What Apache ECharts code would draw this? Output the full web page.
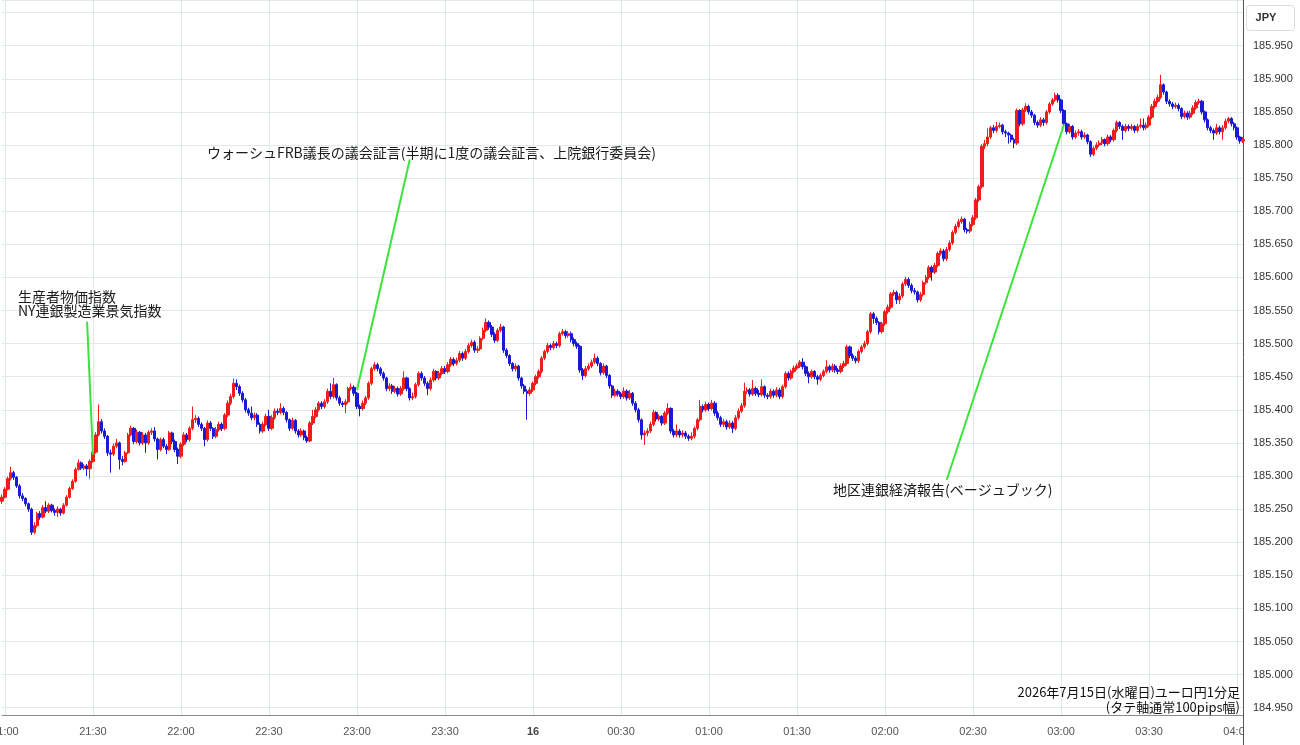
<!DOCTYPE html>
<html>
<head>
<meta charset="utf-8">
<title>ユーロ円 1分足</title>
<script src="https://cdn.jsdelivr.net/npm/echarts@6/dist/echarts.min.js"></script>
<style>
  html, body { margin: 0; padding: 0; background: #fff; }
  #main { width: 1300px; height: 745px; }
</style>
</head>
<body>
<div id="main"></div>
<script>
// 価格 = BASE + 値 / 1000 (値は185.000からの0.001円単位)
var BASE = 185
var START = '20:59' // 最初の足の時刻
var OPEN0 = 262 // 最初の足の始値 (以降は前の足の終値)

var closes = [
  268, 280, 296, 305, 298, 285, 270, 266, 258, 250,
  215, 225, 243, 238, 252, 247, 256, 248, 245, 250,
  244, 256, 268, 281, 292, 310, 320, 312, 315, 311,
  322, 336, 362, 382, 368, 360, 335, 333, 345, 350,
  325, 322, 335, 362, 372, 352, 366, 350, 362, 350,
  366, 368, 356, 340, 355, 345, 340, 365, 352, 340,
  330, 348, 362, 355, 372, 385, 387, 378, 372, 355,
  380, 372, 360, 370, 378, 372, 392, 410, 420, 440,
  435, 425, 415, 400, 395, 388, 392, 378, 368, 378,
  390, 372, 388, 398, 396, 402, 396, 385, 372, 384,
  368, 362, 368, 358, 353, 380, 390, 400, 410, 405,
  412, 428, 420, 438, 418, 410, 408, 412, 432, 434,
  425, 405, 402, 410, 418, 440, 462, 468, 462, 455,
  448, 432, 436, 428, 432, 424, 432, 448, 432, 418,
  420, 438, 455, 448, 440, 432, 445, 458, 448, 455,
  462, 458, 468, 476, 470, 475, 485, 478, 488, 497,
  502, 490, 492, 508, 520, 532, 525, 514, 505, 520,
  525, 490, 482, 470, 462, 466, 448, 436, 428, 425,
  430, 440, 450, 458, 478, 488, 497, 494, 500, 497,
  515, 518, 512, 515, 506, 500, 496, 460, 452, 462,
  466, 472, 478, 470, 456, 466, 452, 436, 422, 428,
  424, 420, 428, 418, 425, 410, 400, 385, 362, 365,
  368, 378, 396, 386, 390, 380, 395, 402, 368, 362,
  368, 362, 365, 360, 357, 360, 372, 385, 405, 400,
  408, 402, 410, 395, 388, 378, 382, 374, 380, 372,
  388, 398, 406, 428, 430, 424, 432, 425, 423, 435,
  422, 420, 428, 422, 430, 420, 435, 455, 448, 458,
  463, 466, 472, 465, 455, 450, 458, 450, 446, 452,
  458, 465, 460, 466, 460, 458, 466, 470, 495, 482,
  478, 474, 488, 495, 500, 518, 545, 538, 532, 518,
  530, 548, 555, 575, 577, 566, 572, 590, 597, 588,
  580, 578, 566, 574, 592, 600, 615, 608, 618, 636,
  640, 628, 642, 652, 668, 677, 684, 688, 672, 670,
  680, 690, 717, 737, 798, 802, 812, 826, 822, 828,
  830, 820, 818, 815, 808, 803, 852, 832, 853, 858,
  850, 845, 834, 830, 838, 834, 850, 862, 868, 875,
  868, 852, 832, 820, 828, 812, 818, 820, 812, 815,
  805, 786, 795, 800, 803, 808, 802, 812, 808, 822,
  834, 828, 822, 828, 825, 828, 822, 828, 830, 826,
  830, 842, 858, 866, 872, 891, 880, 866, 862, 858,
  860, 855, 843, 848, 842, 848, 856, 864, 866, 850,
  838, 826, 822, 818, 826, 820, 826, 836, 840, 832,
  826, 812, 806, 808
]

var highs = [
  272, 283, 299, 314, 308, 300, 288, 274, 268, 260,
  252, 230, 246, 247, 256, 262, 259, 258, 251, 254,
  252, 259, 271, 284, 295, 313, 325, 322, 318, 318,
  325, 340, 366, 408, 386, 372, 362, 340, 349, 356,
  352, 330, 338, 365, 376, 374, 370, 368, 366, 365,
  369, 372, 374, 358, 358, 358, 348, 368, 367, 355,
  343, 351, 366, 365, 375, 405, 392, 390, 381, 374,
  384, 383, 374, 374, 382, 381, 395, 414, 424, 447,
  446, 438, 428, 418, 403, 405, 396, 395, 381, 382,
  394, 400, 392, 402, 402, 410, 405, 398, 387, 388,
  386, 371, 372, 370, 361, 383, 400, 404, 413, 413,
  416, 432, 440, 448, 440, 421, 413, 416, 435, 440,
  437, 427, 408, 414, 421, 443, 465, 472, 471, 465,
  458, 450, 440, 439, 436, 435, 436, 458, 450, 434,
  426, 441, 458, 458, 451, 443, 449, 462, 460, 459,
  466, 466, 472, 480, 479, 479, 489, 488, 492, 501,
  506, 505, 496, 511, 524, 538, 535, 528, 517, 523,
  530, 527, 493, 484, 472, 470, 468, 450, 439, 431,
  434, 443, 453, 461, 481, 491, 501, 500, 504, 503,
  518, 522, 521, 519, 518, 509, 503, 498, 463, 466,
  470, 476, 485, 481, 472, 470, 468, 454, 438, 432,
  431, 427, 434, 431, 430, 427, 413, 403, 387, 369,
  372, 382, 400, 398, 393, 392, 398, 410, 404, 371,
  378, 371, 369, 368, 363, 366, 375, 388, 415, 408,
  412, 411, 415, 413, 398, 391, 386, 385, 384, 383,
  392, 402, 410, 441, 434, 433, 445, 435, 430, 446,
  437, 425, 432, 431, 434, 433, 438, 458, 458, 461,
  467, 470, 475, 478, 467, 458, 461, 460, 453, 455,
  461, 475, 468, 470, 469, 463, 470, 474, 498, 497,
  485, 481, 491, 498, 504, 521, 548, 548, 541, 534,
  533, 551, 559, 578, 581, 580, 576, 593, 601, 600,
  591, 584, 580, 578, 595, 604, 618, 618, 622, 639,
  644, 643, 646, 656, 671, 681, 688, 692, 690, 675,
  684, 694, 720, 740, 801, 808, 825, 829, 830, 835,
  834, 832, 823, 820, 817, 811, 855, 854, 856, 863,
  861, 853, 847, 837, 842, 841, 853, 865, 871, 879,
  878, 870, 854, 834, 832, 830, 822, 824, 823, 819,
  817, 807, 798, 804, 807, 812, 810, 816, 815, 825,
  837, 836, 831, 832, 831, 832, 830, 832, 840, 840,
  834, 845, 862, 870, 876, 906, 893, 882, 869, 865,
  864, 863, 857, 852, 851, 852, 860, 868, 870, 868,
  852, 840, 829, 825, 832, 829, 830, 840, 842, 842,
  835, 828, 814, 812
]

var lows = [
  258, 266, 278, 293, 294, 282, 266, 262, 254, 246,
  211, 212, 222, 234, 236, 244, 244, 245, 240, 238,
  240, 242, 254, 266, 279, 290, 308, 309, 309, 300,
  296, 320, 334, 360, 364, 356, 330, 305, 330, 342,
  310, 316, 320, 333, 360, 348, 349, 346, 347, 335,
  347, 362, 352, 325, 337, 342, 333, 338, 348, 336,
  318, 327, 345, 351, 352, 369, 380, 374, 368, 345,
  352, 368, 356, 357, 367, 368, 369, 389, 407, 417,
  430, 421, 411, 396, 391, 384, 384, 374, 364, 365,
  375, 368, 369, 385, 392, 393, 392, 381, 368, 369,
  364, 358, 359, 354, 350, 351, 377, 387, 397, 401,
  402, 409, 416, 417, 414, 406, 404, 395, 409, 429,
  421, 401, 390, 399, 407, 415, 437, 459, 458, 451,
  444, 428, 428, 424, 425, 420, 421, 429, 428, 414,
  415, 417, 435, 444, 436, 422, 429, 442, 444, 445,
  452, 454, 455, 465, 466, 467, 472, 474, 475, 485,
  494, 486, 486, 489, 505, 517, 521, 510, 501, 502,
  517, 486, 478, 466, 458, 458, 444, 432, 424, 385,
  421, 427, 437, 447, 455, 475, 485, 490, 491, 493,
  494, 512, 508, 509, 502, 496, 492, 456, 445, 449,
  459, 463, 469, 466, 452, 453, 448, 432, 418, 419,
  420, 416, 417, 414, 415, 406, 396, 381, 355, 347,
  360, 365, 375, 382, 383, 376, 377, 392, 364, 358,
  359, 358, 358, 356, 353, 354, 357, 369, 382, 396,
  397, 398, 399, 391, 384, 374, 374, 370, 371, 365,
  369, 385, 395, 403, 424, 420, 421, 421, 419, 420,
  418, 416, 417, 418, 419, 416, 417, 432, 444, 445,
  455, 460, 463, 461, 451, 440, 447, 446, 438, 443,
  449, 455, 456, 457, 456, 454, 455, 463, 467, 478,
  474, 470, 471, 485, 492, 497, 515, 530, 528, 514,
  515, 527, 545, 552, 572, 560, 560, 569, 587, 584,
  576, 574, 562, 563, 571, 589, 597, 595, 605, 615,
  633, 624, 625, 639, 649, 665, 674, 681, 668, 666,
  667, 677, 687, 714, 734, 794, 798, 809, 818, 819,
  825, 816, 812, 802, 804, 795, 800, 828, 829, 850,
  846, 841, 830, 826, 827, 829, 831, 847, 859, 865,
  864, 848, 828, 816, 817, 808, 809, 814, 808, 809,
  801, 782, 783, 792, 797, 800, 798, 799, 804, 805,
  819, 824, 808, 819, 821, 822, 818, 819, 825, 822,
  823, 827, 839, 855, 863, 869, 876, 862, 858, 854,
  855, 851, 839, 840, 838, 839, 845, 853, 861, 846,
  834, 822, 818, 808, 815, 816, 808, 823, 833, 828,
  822, 808, 802, 803
]

// 目盛りラベル (日付が変わる0時は日付表示)
var tickRename = { '00:00': '16' }

// 注記: テキスト側の端 → 足側の端 [時刻, 価格]
var noteTexts = [
  '生産者物価指数\nNY連銀製造業景気指数',
  'ウォーシュFRB議長の議会証言(半期に1度の議会証言、上院銀行委員会)',
  '地区連銀経済報告(ベージュブック)'
]
var noteFrom = [['21:28', 185.533], ['23:18', 185.778], ['02:21', 185.294]]
var noteTo = [['21:30', 185.332], ['23:00', 185.430], ['03:01', 185.831]]

var caption = '2026年7月15日(水曜日)ユーロ円1分足\n(タテ軸通常100pips幅)'

var UP = '#f01c1c'
var DOWN = '#1a1ad6'
var GRID = '#e0e8ec'
var LATIN = '"Liberation Sans", Arial, sans-serif'
var CJK = '"Noto Sans CJK JP", "Liberation Sans", sans-serif'

function pad(n) {
  return n < 10 ? '0' + n : '' + n
}
function toPrice(v) {
  return +(BASE + v / 1000).toFixed(3)
}
// 1分ごとの時刻軸
function buildTimes(start, n) {
  var m0 = start.split(':')[0] * 60 + start.split(':')[1] * 1
  var out = []
  for (var i = 0; i < n; i++) {
    var t = (m0 + i) % 1440
    out.push(pad(Math.floor(t / 60)) + ':' + pad(t % 60))
  }
  return out
}

var times = buildTimes(START, closes.length)
var candles = closes.map(function (c, i) {
  var o = i === 0 ? OPEN0 : closes[i - 1]
  return [toPrice(o), toPrice(c), toPrice(lows[i]), toPrice(highs[i])]
})

function isHalfHour(index, value) {
  var m = value.split(':')[1]
  return m === '00' || m === '30'
}

var myChart = echarts.init(document.getElementById('main'), null, { renderer: 'canvas' })
var option = {
  animation: false,
  backgroundColor: '#fff',
  grid: { left: 2, right: 57, top: 0, bottom: 30, containLabel: false, outerBoundsMode: 'none' },
  xAxis: {
    type: 'category',
    data: times,
    boundaryGap: false,
    axisLine: { show: true, lineStyle: { color: '#8a8a8a' } },
    axisTick: { show: false },
    axisLabel: {
      interval: isHalfHour,
      color: '#555',
      fontSize: 11,
      fontFamily: LATIN,
      margin: 11,
      hideOverlap: false,
      formatter: function (value) {
        return tickRename[value] ? '{b|' + tickRename[value] + '}' : value
      },
      rich: {
        b: { fontWeight: 'bold', color: '#444', fontSize: 11, fontFamily: LATIN }
      }
    },
    splitLine: { show: true, interval: isHalfHour, lineStyle: { color: GRID } }
  },
  yAxis: {
    type: 'value',
    position: 'right',
    min: toPrice(-61),
    max: toPrice(1019),
    splitNumber: 21,
    axisLine: { show: true, lineStyle: { color: '#555' } },
    axisTick: { show: false },
    axisLabel: {
      color: '#333',
      fontSize: 11,
      fontFamily: LATIN,
      margin: 10,
      formatter: function (v) {
        var k = v * 20
        if (Math.abs(k - Math.round(k)) > 1e-6 || v > 185.99) return ''
        return v.toFixed(3)
      }
    },
    splitLine: { show: true, lineStyle: { color: GRID } }
  },
  series: [
    {
      type: 'candlestick',
      data: candles,
      barWidth: '95%',
      itemStyle: {
        color: UP,
        color0: DOWN,
        borderColor: UP,
        borderColor0: DOWN,
        borderWidth: 1
      },
      markLine: {
        silent: true,
        animation: false,
        symbol: ['none', 'none'],
        label: { show: false },
        lineStyle: { color: '#3de23d', width: 2, type: 'solid' },
        data: noteFrom.map(function (p, i) {
          return [{ coord: p }, { coord: noteTo[i] }]
        })
      }
    }
  ],
  graphic: [
    {
      type: 'text', x: 18, y: 290, z: 10,
      style: { text: noteTexts[0], fontSize: 14, lineHeight: 14, fontFamily: CJK, fill: '#1a1a1a', verticalAlign: 'top' }
    },
    {
      type: 'text', x: 207, y: 145, z: 10,
      style: { text: noteTexts[1], fontSize: 14, lineHeight: 15, fontFamily: CJK, fill: '#1a1a1a', verticalAlign: 'top' }
    },
    {
      type: 'text', x: 833, y: 482, z: 10,
      style: { text: noteTexts[2], fontSize: 14, lineHeight: 15, fontFamily: CJK, fill: '#1a1a1a', verticalAlign: 'top' }
    },
    {
      type: 'text', x: 1240, y: 685, z: 10,
      style: { text: caption, fontSize: 13, lineHeight: 15, fontFamily: CJK, fill: '#111', align: 'right', verticalAlign: 'top' }
    },
    // 軸右側の目隠しと縦線の延長
    {
      type: 'rect', z: 20,
      shape: { x: 1244, y: 716, width: 56, height: 29 },
      style: { fill: '#fff' }
    },
    {
      type: 'line', z: 21,
      shape: { x1: 1243.5, y1: 715, x2: 1243.5, y2: 745 },
      style: { stroke: '#555', lineWidth: 1 }
    },
    // 通貨ラベル
    {
      type: 'rect', z: 20,
      shape: { x: 1246.5, y: 5.5, width: 48, height: 25, r: 3 },
      style: { fill: '#fff', stroke: '#dcdcdc', lineWidth: 1 }
    },
    {
      type: 'text', x: 1266, y: 18, z: 21,
      style: { text: 'JPY', fontSize: 11, fontFamily: LATIN, fontWeight: 'bold', fill: '#333', align: 'center', verticalAlign: 'middle' }
    }
  ]
}
option && myChart.setOption(option, true)
</script>
</body>
</html>
